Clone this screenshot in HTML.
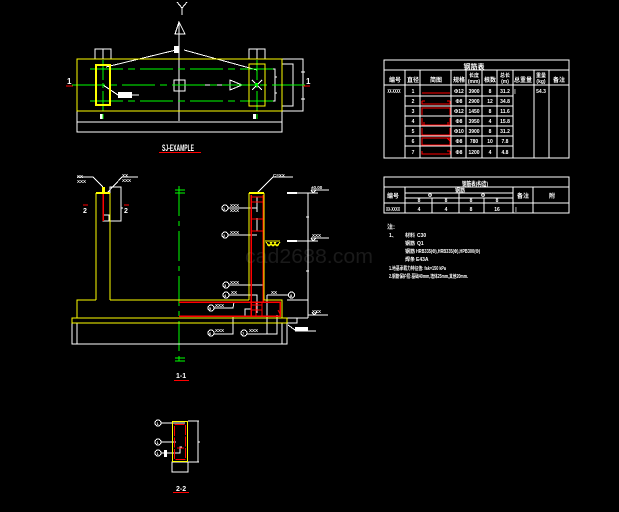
<!DOCTYPE html>
<html><head><meta charset="utf-8"><style>
html,body{margin:0;padding:0;background:#000;}
svg{display:block;}
text{font-family:"Liberation Sans","Noto Sans CJK SC",sans-serif;fill:#fff;font-weight:bold;}
</style></head><body>
<svg width="619" height="512" viewBox="0 0 619 512" xmlns="http://www.w3.org/2000/svg" shape-rendering="crispEdges">
<rect width="619" height="512" fill="#000"/>
<text x="245" y="263" font-size="20" style="fill:#1a1a1a;font-weight:normal" textLength="128" lengthAdjust="spacingAndGlyphs">cad2688.com</text>

<!-- ===== PLAN VIEW ===== -->
<g stroke="#fff" fill="none" stroke-width="1">
  <polyline points="177,2 182,8 187,2"/>
  <line x1="182" y1="8" x2="182" y2="15"/>
  <polygon points="179,22 175,34 185,34"/>
  <line x1="179" y1="27" x2="179" y2="34"/>
  <line x1="179" y1="22" x2="179" y2="121"/>
  <line x1="176" y1="50" x2="106" y2="67"/>
  <line x1="184" y1="50" x2="257" y2="70"/>
  <polyline points="257,69 275,69 275,101 257,101"/>
  <line x1="275" y1="77" x2="277" y2="77"/>
  <line x1="275" y1="93" x2="277" y2="93"/>
  <rect x="77" y="111" width="205" height="21"/>
  <line x1="77" y1="122" x2="282" y2="122"/>
  <rect x="95" y="49" width="16" height="10"/>
  <line x1="103" y1="49" x2="103" y2="59"/>
  <rect x="249" y="49" width="16" height="10"/>
  <line x1="257" y1="49" x2="257" y2="59"/>
  <rect x="174" y="80" width="11" height="11"/>
  <line x1="185" y1="85" x2="240" y2="85"/>
  <polygon points="230,80 242,85 230,90"/>
  <line x1="252" y1="80" x2="262" y2="90"/>
  <line x1="262" y1="80" x2="252" y2="90"/>
  <rect x="282" y="64" width="11" height="42"/>
  <polyline points="282,59 303,59 303,111 282,111"/>
  <line x1="301" y1="72" x2="305" y2="72"/>
  <line x1="301" y1="99" x2="305" y2="99"/>
  <line x1="103" y1="85" x2="118" y2="95"/>
  <line x1="118" y1="95" x2="139" y2="95"/>
</g>
<rect x="174" y="46" width="5" height="7" fill="#fff"/>
<rect x="100" y="114" width="3" height="5" fill="#fff"/>
<rect x="253" y="114" width="3" height="5" fill="#fff"/>
<rect x="118" y="92" width="14" height="6" fill="#fff"/>
<g stroke="#0f0" fill="none" stroke-width="1">
  <line x1="90" y1="69" x2="273" y2="69" stroke-dasharray="33,5,7,5"/>
  <line x1="72" y1="85" x2="306" y2="85" stroke-dasharray="33,5,7,5"/>
  <line x1="90" y1="101" x2="273" y2="101" stroke-dasharray="33,5,7,5"/>
  <line x1="103" y1="60" x2="103" y2="121" stroke-dasharray="20,3,5,3"/>
  <line x1="257" y1="60" x2="257" y2="121" stroke-dasharray="20,3,5,3"/>
</g>
<rect x="255" y="83" width="3" height="3" fill="#0f0"/>
<g stroke="#ff0" fill="none">
  <rect x="77" y="59" width="205" height="52" stroke-width="1"/>
  <rect x="96" y="65" width="14" height="40" stroke-width="2"/>
  <rect x="249" y="64" width="16" height="42" stroke-width="1"/>
</g>
<text x="67" y="84" font-size="8">1</text>
<text x="306" y="84" font-size="8">1</text>
<line x1="66" y1="86" x2="73" y2="86" stroke="#f00"/>
<line x1="303" y1="86" x2="310" y2="86" stroke="#f00"/>
<text x="162" y="151" font-size="9" textLength="32" lengthAdjust="spacingAndGlyphs">SJ-EXAMPLE</text>
<line x1="159" y1="152.5" x2="201" y2="152.5" stroke="#f00" stroke-width="1.2"/>

<!-- ===== TABLE 1 ===== -->
<g stroke="#fff" fill="none" stroke-width="1">
  <rect x="384" y="60" width="185" height="98"/>
  <line x1="384" y1="70" x2="569" y2="70"/>
  <line x1="384" y1="85" x2="569" y2="85"/>
  <line x1="405" y1="96" x2="513" y2="96"/>
  <line x1="405" y1="106" x2="513" y2="106"/>
  <line x1="405" y1="116" x2="513" y2="116"/>
  <line x1="405" y1="126" x2="513" y2="126"/>
  <line x1="405" y1="136" x2="513" y2="136"/>
  <line x1="405" y1="146" x2="513" y2="146"/>
  <line x1="405" y1="70" x2="405" y2="158"/>
  <line x1="420" y1="70" x2="420" y2="158"/>
  <line x1="451" y1="70" x2="451" y2="158"/>
  <line x1="466" y1="70" x2="466" y2="158"/>
  <line x1="482" y1="70" x2="482" y2="158"/>
  <line x1="497" y1="70" x2="497" y2="158"/>
  <line x1="513" y1="70" x2="513" y2="158"/>
  <line x1="534" y1="70" x2="534" y2="158"/>
  <line x1="549" y1="70" x2="549" y2="158"/>
</g>
<g font-size="6" text-anchor="middle">
  <text x="474" y="69" font-size="7">钢筋表</text>
  <text x="395" y="82">编号</text>
  <text x="413" y="82">直径</text>
  <text x="436" y="82">简图</text>
  <text x="459" y="82">规格</text>
  <text x="474" y="77" font-size="5">长度</text>
  <text x="474" y="83" font-size="5">(mm)</text>
  <text x="490" y="82">根数</text>
  <text x="505" y="77" font-size="5">总长</text>
  <text x="505" y="83" font-size="5">(m)</text>
  <text x="523" y="82">总重量</text>
  <text x="541" y="77" font-size="5">重量</text>
  <text x="541" y="83" font-size="5">(kg)</text>
  <text x="559" y="82">备注</text>
</g>
<g font-size="5" text-anchor="middle">
  <text x="394" y="93" textLength="13" lengthAdjust="spacingAndGlyphs">XX-XXXX</text>
  <text x="413" y="93">1</text><text x="413" y="103">2</text><text x="413" y="113">3</text><text x="413" y="123">4</text><text x="413" y="133">5</text><text x="413" y="143">6</text><text x="413" y="154">7</text>
  <text x="459" y="93">Φ12</text><text x="459" y="103">Φ8</text><text x="459" y="113">Φ12</text><text x="459" y="123">Φ8</text><text x="459" y="133">Φ10</text><text x="459" y="143">Φ8</text><text x="459" y="154">Φ8</text>
  <text x="474" y="93">3900</text><text x="474" y="103">2900</text><text x="474" y="113">1450</text><text x="474" y="123">3950</text><text x="474" y="133">3900</text><text x="474" y="143">780</text><text x="474" y="154">1200</text>
  <text x="490" y="93">8</text><text x="490" y="103">12</text><text x="490" y="113">8</text><text x="490" y="123">4</text><text x="490" y="133">8</text><text x="490" y="143">10</text><text x="490" y="154">4</text>
  <text x="505" y="93">31.2</text><text x="505" y="103">34.8</text><text x="505" y="113">11.6</text><text x="505" y="123">15.8</text><text x="505" y="133">31.2</text><text x="505" y="143">7.8</text><text x="505" y="154">4.8</text>
  <text x="515" y="93">|</text>
  <text x="541" y="93">54.3</text>
</g>
<g stroke="#f00" fill="none" stroke-width="1">
  <line x1="422" y1="93" x2="450" y2="93"/>
  <polyline points="422,101 422,104 450,104 450,101"/>
  <line x1="422" y1="101" x2="425" y2="101"/><line x1="447" y1="101" x2="450" y2="101"/>
  <polyline points="422,115 422,108 450,108 450,115"/>
  <polyline points="422,118 422,125 450,125 450,118"/>
  <line x1="424" y1="122" x2="424" y2="125"/><line x1="448" y1="122" x2="448" y2="125"/>
  <polyline points="422,128 422,135 450,135 450,128"/>
  <rect x="422" y="138" width="28" height="7"/>
  <line x1="447" y1="138" x2="450" y2="141"/>
  <polyline points="422,151 422,154 450,154 450,151"/>
  <line x1="447" y1="151" x2="450" y2="151"/>
</g>

<!-- ===== TABLE 2 ===== -->
<g stroke="#fff" fill="none" stroke-width="1">
  <rect x="384" y="177" width="185" height="36"/>
  <line x1="384" y1="187" x2="569" y2="187"/>
  <line x1="384" y1="203" x2="569" y2="203"/>
  <line x1="405" y1="187" x2="405" y2="213"/>
  <line x1="513" y1="187" x2="513" y2="213"/>
  <line x1="533" y1="187" x2="533" y2="213"/>
  <line x1="405" y1="193" x2="513" y2="193"/>
  <line x1="405" y1="198" x2="513" y2="198"/>
  <line x1="459" y1="193" x2="459" y2="213"/>
  <line x1="432" y1="198" x2="432" y2="213"/>
  <line x1="484" y1="198" x2="484" y2="213"/>
</g>
<g font-size="5" text-anchor="middle">
  <text x="475" y="186" font-size="6" textLength="26" lengthAdjust="spacingAndGlyphs">钢筋表(构造)</text>
  <text x="393" y="198" font-size="6">编号</text>
  <text x="460" y="192">钢筋</text>
  <text x="430" y="197">Φ</text>
  <text x="483" y="197">Φ</text>
  <text x="419" y="202">8</text><text x="446" y="202">8</text><text x="471" y="202">8</text><text x="497" y="202">8</text>
  <text x="523" y="198" font-size="6">备注</text>
  <text x="552" y="198" font-size="6">附</text>
  <text x="393" y="211" textLength="14" lengthAdjust="spacingAndGlyphs">XX-XXXX</text>
  <text x="419" y="211">4</text><text x="446" y="211">4</text><text x="471" y="211">8</text><text x="497" y="211">16</text>
  <text x="516" y="211">|</text>
</g>
<!-- notes -->
<g font-size="5">
  <text x="387" y="229" font-size="6">注:</text>
  <text x="389" y="237">1、</text><text x="405" y="237">材料</text><text x="417" y="237">C30</text>
  <text x="405" y="245">钢筋</text><text x="417" y="245">Q1</text>
  <text x="405" y="253">钢筋</text><text x="416" y="253" textLength="64" lengthAdjust="spacingAndGlyphs">HRB335(Φ),HRB335(Φ),HPB300(Φ)</text>
  <text x="405" y="261">焊条</text><text x="416" y="261">E43A</text>
  <text x="389" y="270" textLength="57" lengthAdjust="spacingAndGlyphs">1.地基承载力特征值: fak=150 kPa</text>
  <text x="389" y="278" textLength="79" lengthAdjust="spacingAndGlyphs">2.钢筋保护层:基础40mm,墙体25mm,其他20mm.</text>
</g>

<!-- ===== SECTION 1-1 ===== -->
<g stroke="#0f0" fill="none">
  <line x1="175" y1="190" x2="185" y2="190"/>
  <line x1="175" y1="193" x2="185" y2="193"/>
  <line x1="179" y1="186" x2="179" y2="363" stroke-dasharray="30,5,5,5"/>
  <line x1="175" y1="358" x2="185" y2="358"/>
  <line x1="175" y1="361" x2="185" y2="361"/>
</g>
<g stroke="#fff" fill="none">
  <rect x="72" y="323" width="215" height="21"/>
  <line x1="77" y1="323" x2="77" y2="344"/>
  <line x1="282" y1="323" x2="282" y2="344"/>
  <rect x="110" y="187" width="11" height="34"/>
  <line x1="121" y1="208" x2="123" y2="208"/>
  <rect x="103" y="215" width="6" height="6"/>
  <polyline points="77,177 93,177 103,187"/>
  <polyline points="138,177 122,177 107,193"/>
  <polyline points="293,177 273,177 257,193"/>
  <line x1="257" y1="197" x2="257" y2="212"/>
  <line x1="257" y1="218" x2="257" y2="231"/>
  <circle cx="225" cy="208" r="3"/>
  <line x1="228" y1="208" x2="257" y2="208"/>
  <circle cx="225" cy="235" r="3"/>
  <line x1="228" y1="235" x2="257" y2="235"/>
  <circle cx="226" cy="285" r="3"/>
  <line x1="229" y1="285" x2="263" y2="285"/>
  <circle cx="226" cy="295" r="3"/>
  <polyline points="229,295 257,295 257,313"/>
  <circle cx="211" cy="308" r="3"/>
  <polyline points="214,308 233,308 234,302"/>
  <circle cx="211" cy="333" r="3"/>
  <polyline points="214,334 233,334 233,316"/>
  <circle cx="244" cy="333" r="3"/>
  <polyline points="247,334 277,334 277,315"/>
  <line x1="267" y1="295" x2="267" y2="334"/>
  <line x1="267" y1="295" x2="288" y2="295"/>
  <circle cx="291.5" cy="295" r="3"/>
  <rect x="245" y="309" width="6" height="7"/>
  <line x1="308" y1="193" x2="308" y2="318"/>
  <line x1="287" y1="193" x2="318" y2="193"/>
  <line x1="311" y1="190" x2="329" y2="190"/>
  <polyline points="311,190 313,193 316,190"/>
  <line x1="287" y1="241" x2="318" y2="241"/>
  <line x1="311" y1="238" x2="329" y2="238"/>
  <polyline points="311,238 313,241 316,238"/>
  <line x1="306" y1="217" x2="309" y2="217"/>
  <line x1="306" y1="271" x2="309" y2="271"/>
  <line x1="287" y1="300" x2="308" y2="300"/>
  <line x1="287" y1="318" x2="308" y2="318"/>
  <line x1="308" y1="315" x2="328" y2="315"/>
  <polyline points="312,312 314,315 317,312"/>
  <rect x="287" y="318" width="10" height="5"/>
  <line x1="288" y1="325" x2="295" y2="330"/>
  <line x1="295" y1="331" x2="316" y2="331"/>
</g>
<g fill="#fff">
  <rect x="287" y="192" width="10" height="2"/>
  <rect x="287" y="240" width="10" height="2"/>
  <rect x="295" y="327" width="13" height="4"/>
</g>
<g font-size="4.5">
  <text x="77" y="178">XX</text><text x="77" y="183">XXX</text>
  <text x="122" y="177">XX</text><text x="122" y="182">XXX</text>
  <text x="273" y="177">C=XX</text>
  <text x="230" y="207">XXX</text><text x="230" y="212">XXX</text>
  <text x="230" y="234">XXX</text>
  <text x="230" y="284">XXX</text>
  <text x="231" y="294">XX</text>
  <text x="215" y="307">XXX</text>
  <text x="215" y="332">XXX</text>
  <text x="249" y="332">XXX</text>
  <text x="271" y="294">XX</text>
  <text x="311" y="189">±0.00</text>
  <text x="312" y="237">XXX</text>
  <text x="312" y="313">XXX</text>
  <text x="223" y="210" font-size="4">1</text>
  <text x="223" y="237" font-size="4">2</text>
  <text x="224" y="287" font-size="4">3</text>
  <text x="224" y="297" font-size="4">4</text>
  <text x="209" y="310" font-size="4">5</text>
  <text x="209" y="335" font-size="4">6</text>
  <text x="242" y="335" font-size="4">7</text>
  <text x="290" y="297" font-size="4">8</text>
</g>
<text x="83" y="213" font-size="7">2</text>
<text x="124" y="213" font-size="7">2</text>
<line x1="83" y1="205" x2="88" y2="205" stroke="#f00"/>
<line x1="124" y1="205" x2="129" y2="205" stroke="#f00"/>
<g stroke="#f00" fill="none" stroke-width="1.5">
  <line x1="103" y1="193" x2="103" y2="221"/>
  <line x1="251" y1="195" x2="251" y2="316"/>
  <line x1="263" y1="195" x2="263" y2="302"/>
  <polyline points="179,302 280,302 280,316 179,316"/>
</g>
<g stroke="#f00" fill="none" stroke-width="1">
  <line x1="251" y1="197" x2="263" y2="197"/>
  <line x1="251" y1="202" x2="263" y2="202"/>
  <line x1="251" y1="219" x2="263" y2="219"/>
  <line x1="251" y1="231" x2="263" y2="231"/>
  <line x1="251" y1="305" x2="262" y2="305"/>
  <line x1="251" y1="310" x2="262" y2="310"/>
  <line x1="256" y1="302" x2="256" y2="316"/>
  <line x1="262" y1="302" x2="262" y2="316"/>
  <line x1="278" y1="310" x2="280" y2="314"/>
</g>
<g stroke="#ff0" fill="none" stroke-width="1">
  <line x1="96" y1="193" x2="96" y2="300"/>
  <line x1="110" y1="193" x2="110" y2="300"/>
  <line x1="96" y1="193" x2="110" y2="193" stroke-width="2"/>
  <polyline points="96,300 77,300 77,318"/>
  <line x1="110" y1="300" x2="249" y2="300"/>
  <line x1="249" y1="193" x2="249" y2="300"/>
  <polyline points="264,193 264,300 282,300 282,318"/>
  <line x1="249" y1="193" x2="264" y2="193" stroke-width="2"/>
  <rect x="72" y="318" width="215" height="5"/>
  <line x1="265" y1="241" x2="280" y2="241"/>
  <path d="M266,242 L269,246 L272,242 M270,242 L273,246 L276,242 M274,242 L277,246 L280,242 M267,245 L279,245" />
</g>
<rect x="102" y="187" width="3" height="6" fill="#ff0"/>
<text x="176" y="378" font-size="7">1-1</text>
<line x1="174" y1="380.5" x2="189" y2="380.5" stroke="#f00" stroke-width="1.2"/>

<!-- ===== SECTION 2-2 ===== -->
<g stroke="#fff" fill="none">
  <rect x="172" y="462" width="16" height="10"/>
  <polyline points="188,421 199,421"/>
  <polyline points="188,462 199,462"/>
  <line x1="198" y1="421" x2="198" y2="462"/>
  <line x1="198" y1="442" x2="200" y2="442"/>
  <circle cx="158" cy="423" r="3"/>
  <line x1="161" y1="423" x2="185" y2="423"/>
  <circle cx="158" cy="442" r="3"/>
  <line x1="161" y1="442" x2="176" y2="442"/>
  <circle cx="158" cy="453" r="3"/>
  <polyline points="161,453 180,453 180,447 182,447"/>
</g>
<rect x="164" y="450" width="3" height="7" fill="#fff"/>
<g font-size="4">
  <text x="156.5" y="425">1</text>
  <text x="156.5" y="444">1</text>
  <text x="156.5" y="455">1</text>
</g>
<rect x="172.5" y="421.5" width="15" height="40" stroke="#ff0" fill="none"/>
<g stroke="#f00" fill="none" stroke-width="1.2">
  <rect x="174.5" y="424.5" width="11" height="35" stroke-dasharray="10,1.5"/>
  <line x1="177" y1="448" x2="184" y2="448"/>
</g>
<text x="176" y="491" font-size="7">2-2</text>
<line x1="173" y1="492.5" x2="189" y2="492.5" stroke="#f00" stroke-width="1.2"/>
</svg>
</body></html>
